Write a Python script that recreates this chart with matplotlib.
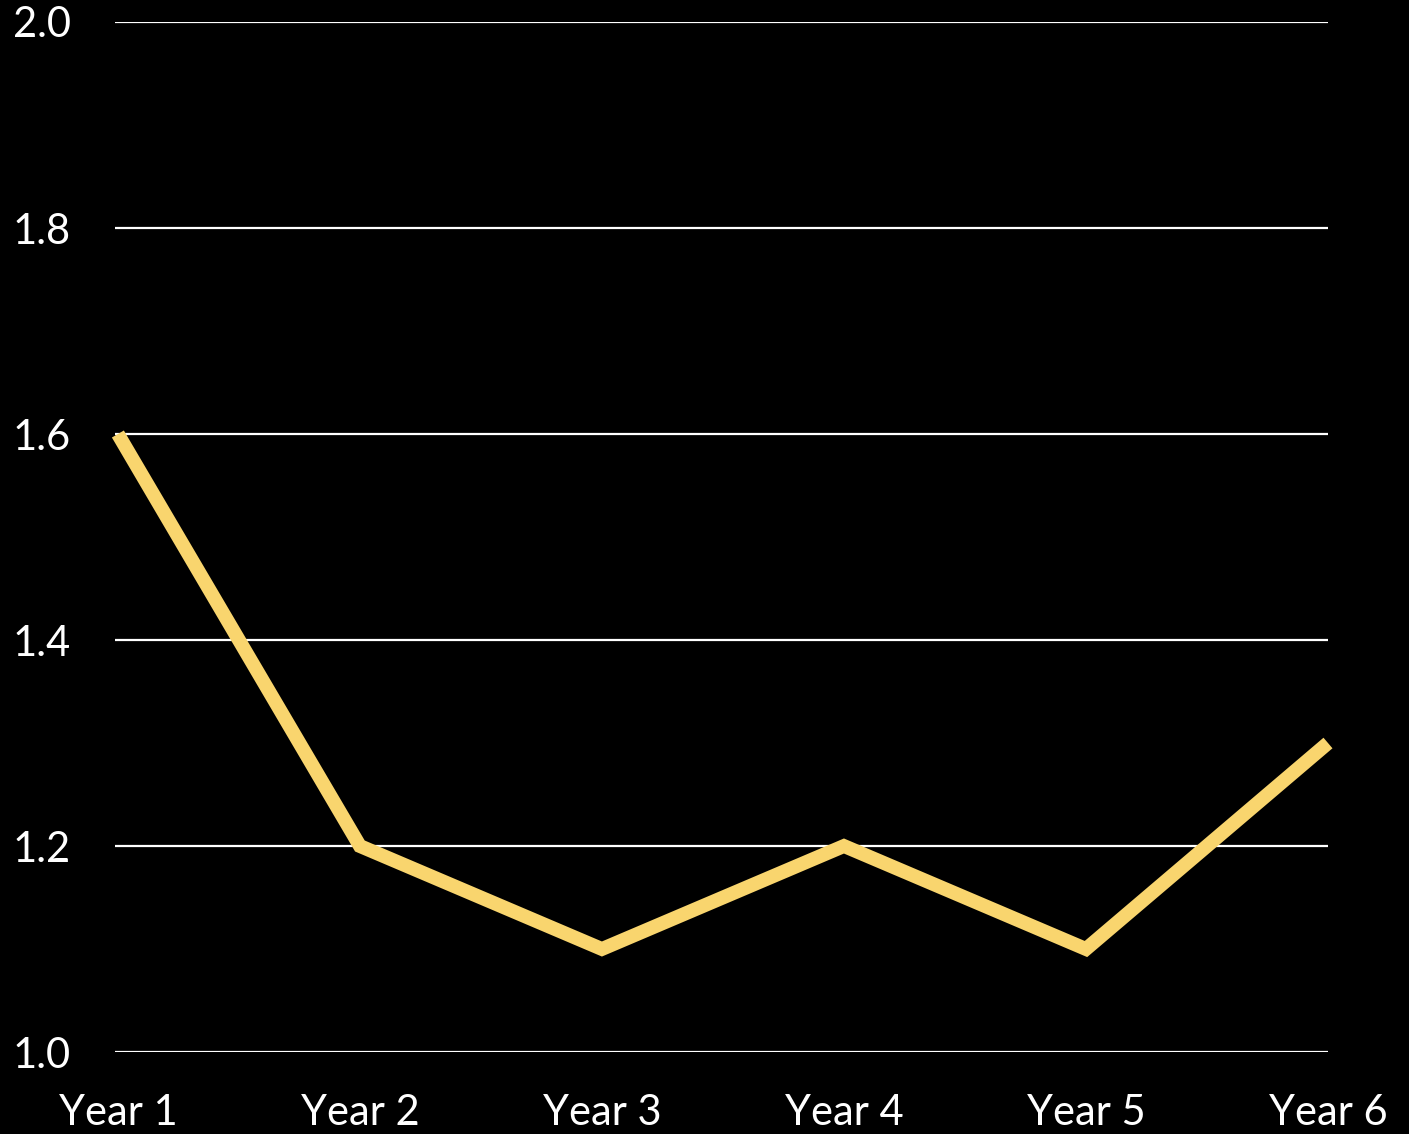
import matplotlib.pyplot as plt
import numpy as np

years = ['Year 1', 'Year 2', 'Year 3', 'Year 4', 'Year 5', 'Year 6']
values = [1.6, 1.2, 1.1, 1.2, 1.1, 1.3]
yticks = [1.0, 1.2, 1.4, 1.6, 1.8, 2.0]

plt.rcParams['font.family'] = ['Lato', 'DejaVu Sans']

fig = plt.figure(figsize=(14.09, 11.34), dpi=100, facecolor='black')
ax = fig.add_axes([0.0816, 0.0723, 0.8609, 0.9083], facecolor='black')

x = np.arange(len(years))
ax.plot(x, values, color='#F9D56E', linewidth=10, solid_joinstyle='miter',
        solid_capstyle='butt', clip_on=False, zorder=3)

ax.set_xlim(-0.012, 5)
ax.set_ylim(1.0, 2.0)
ax.set_yticks(yticks)
ax.set_yticklabels(['%.1f' % v for v in yticks])
ax.set_xticks(x)
ax.set_xticklabels(years)
ax.grid(axis='y', color='white', linewidth=1.6)
ax.set_axisbelow(True)
for s in ax.spines.values():
    s.set_visible(False)
ax.tick_params(axis='both', length=0, colors='white', labelsize=30)
ax.tick_params(axis='y', pad=32)
ax.tick_params(axis='x', pad=30)

fig.savefig('out.png', facecolor='black')
